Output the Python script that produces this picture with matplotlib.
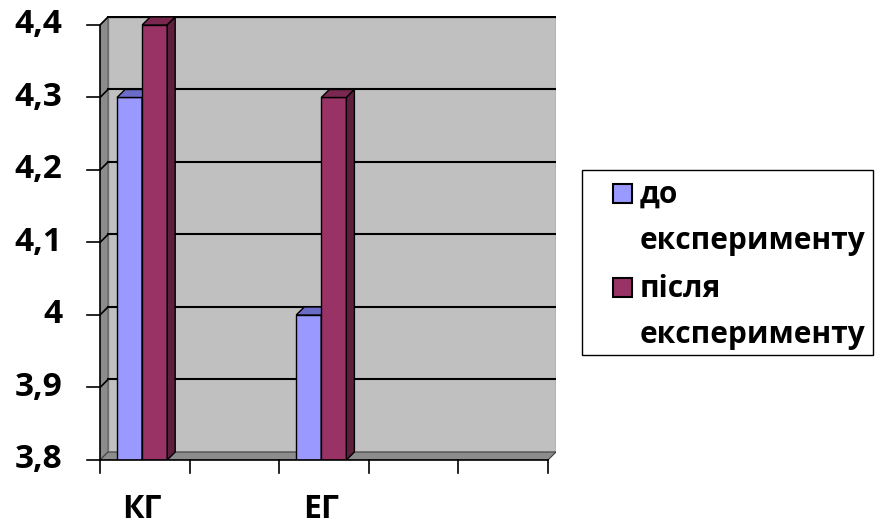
import matplotlib
matplotlib.use("Agg")
import matplotlib.pyplot as plt
from matplotlib.patches import Polygon, Rectangle

# дані
categories = ["КГ", "", "ЕГ", "", ""]
series_names = ["до\nексперименту", "після\nексперименту"]
before = [4.3, None, 4.0, None, None]
after = [4.4, None, 4.3, None, None]
y_ticks = [3.8, 3.9, 4.0, 4.1, 4.2, 4.3, 4.4]
y_labels = ["3,8", "3,9", "4", "4,1", "4,2", "4,3", "4,4"]

plt.rcParams['font.family'] = ['Open Sans', 'DejaVu Sans']

W, H = 875, 525
fig = plt.figure(figsize=(W / 100, H / 100), dpi=100)
fig.patch.set_facecolor('white')

# область графіка (в пікселях)
left_px, right_px, top_px, bottom_px = 100, 556, 16, 460
ax = fig.add_axes([left_px / W, (H - bottom_px) / H,
                   (right_px - left_px) / W, (bottom_px - top_px) / H])
n = len(categories)
px_x = (548 - 100) / n          # пікселів на одну категорію
px_y = (460 - 25) / 0.6         # пікселів на одиницю y
dx = 8 / px_x                   # глибина 3D
dy = 8 / px_y
y0, y1 = 3.8, 4.4
ax.set_xlim(0, n + (right_px - 548) / px_x)
ax.set_ylim(y0, y0 + (bottom_px - top_px) / px_y)
ax.axis('off')

wall = '#c0c0c0'
side = '#8c8c8c'
# задня стінка
ax.add_patch(Polygon([(dx, y0 + dy), (n + dx, y0 + dy), (n + dx, y1 + dy), (dx, y1 + dy)],
                     closed=True, facecolor=wall, edgecolor='#808080', lw=1, zorder=1))
# ліва стінка
ax.add_patch(Polygon([(0, y0), (dx, y0 + dy), (dx, y1 + dy), (0, y1)],
                     closed=True, facecolor=side, edgecolor='#606060', lw=0.8, zorder=1))
# підлога
ax.add_patch(Polygon([(0, y0), (n, y0), (n + dx, y0 + dy), (dx, y0 + dy)],
                     closed=True, facecolor=side, edgecolor='#404040', lw=0.8, zorder=1))

# сітка
for v in y_ticks[1:]:
    ax.plot([dx, n + dx], [v + dy, v + dy], color='black', lw=1.5, zorder=2)
    ax.plot([0, dx], [v, v + dy], color='black', lw=1.2, zorder=2)

# 3D стовпчики
bw = 0.28
def bar3d(x, h, front, top, right):
    ax.add_patch(Rectangle((x, y0), bw, h - y0, facecolor=front, edgecolor='black', lw=1, zorder=4))
    ax.add_patch(Polygon([(x, h), (x + bw, h), (x + bw + dx, h + dy), (x + dx, h + dy)],
                         closed=True, facecolor=top, edgecolor='black', lw=1, zorder=4))
    ax.add_patch(Polygon([(x + bw, y0), (x + bw + dx, y0 + dy), (x + bw + dx, h + dy), (x + bw, h)],
                         closed=True, facecolor=right, edgecolor='black', lw=1, zorder=4))

for i in range(n):
    c = i + 0.47
    if before[i] is not None:
        bar3d(c - bw, before[i], '#9999ff', '#6b6bc8', '#5c5cb0')
    if after[i] is not None:
        bar3d(c, after[i], '#993366', '#7a2850', '#5e1f3d')

# передні осі
ax.plot([0, 0], [y0, y1], color='black', lw=1.2, zorder=5, clip_on=False)
ax.plot([0, n], [y0, y0], color='black', lw=1.2, zorder=5, clip_on=False)
tick_x = 13 / px_x
tick_y = 13 / px_y
for v, lab in zip(y_ticks, y_labels):
    ax.plot([-tick_x, 0], [v, v], color='black', lw=1.2, zorder=5, clip_on=False)
    ax.text(-38 / px_x, v, lab, ha='right', va='center', fontsize=24,
            fontweight='bold', zorder=5)
for i in range(n + 1):
    ax.plot([i, i], [y0, y0 - tick_y], color='black', lw=1.2, zorder=5, clip_on=False)
for i, lab in enumerate(categories):
    if lab:
        ax.text(i + 0.47, y0 - 50 / px_y, lab, ha='center', va='center',
                fontsize=23, fontweight='bold')

# легенда
ov = fig.add_axes([0, 0, 1, 1], facecolor='none')
ov.set_xlim(0, W)
ov.set_ylim(H, 0)
ov.axis('off')
ov.add_patch(Rectangle((582, 170), 291, 185, facecolor='white', edgecolor='black', lw=1))
colors = ['#9999ff', '#993366']
for k, (name, col) in enumerate(zip(series_names, colors)):
    base = 203 + k * 94
    ov.add_patch(Rectangle((613, base - 19), 19, 19, facecolor=col, edgecolor='black', lw=1.5))
    for j, line in enumerate(name.split("\n")):
        ov.text(640, base + j * 46, line, ha='left', va='baseline', fontsize=21.5,
                fontweight='bold')

fig.savefig("out.png", dpi=100, facecolor='white')
